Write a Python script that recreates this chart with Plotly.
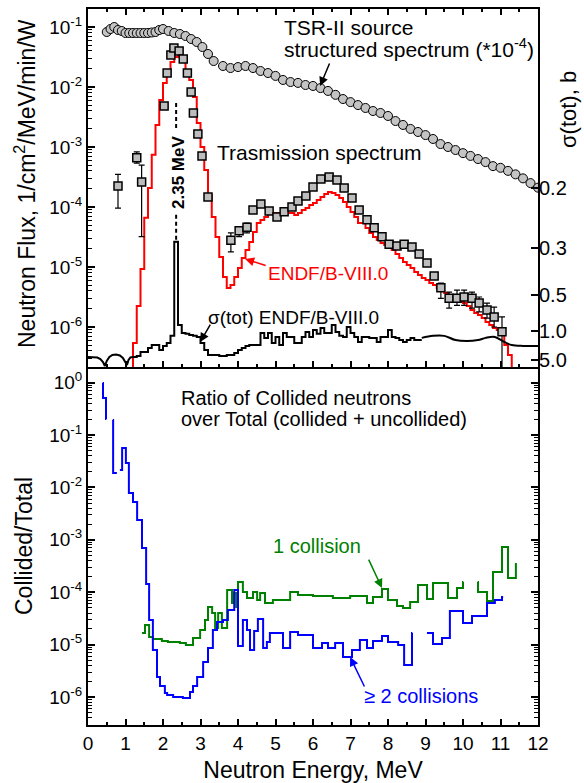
import plotly.graph_objects as go
import math

# ---------------- data ----------------
# TSR-II source structured spectrum (*1e-4), circles
tsr_E = [0.5, 0.6, 0.7, 0.8, 0.9, 1.0, 1.1, 1.2, 1.3, 1.4, 1.5, 1.6, 1.7, 1.8, 1.9, 2.0,
         2.15, 2.3, 2.45, 2.6, 2.75, 2.9, 3.05, 3.2, 3.35,
         3.6, 3.8, 4.0, 4.2, 4.4, 4.6, 4.8, 5.0, 5.2, 5.4, 5.6, 5.8, 6.0, 6.2, 6.4, 6.6, 6.8,
         7.0, 7.2, 7.4, 7.6, 7.8, 8.0, 8.2, 8.4, 8.6, 8.8, 9.0, 9.2, 9.4, 9.6, 9.8, 10.0,
         10.2, 10.4, 10.6, 10.8, 11.0, 11.2, 11.4, 11.6, 11.8, 12.0]
tsr_flux = [0.0825, 0.0926, 0.100, 0.0891, 0.0858, 0.0794, 0.0794, 0.0794, 0.0794, 0.0794, 0.0794,
            0.0794, 0.0810, 0.0825, 0.0891, 0.0926,
            0.0858, 0.0794, 0.0764, 0.0708, 0.0631, 0.0562, 0.0464, 0.0355, 0.0271,
            0.0224, 0.0207, 0.0215, 0.0224, 0.0207, 0.0185, 0.0171, 0.0153, 0.0131, 0.0121, 0.0117,
            0.0108, 0.0104, 0.0096, 0.0086, 0.0074, 0.0063,
            0.0056, 0.0050, 0.00447, 0.00398, 0.00369, 0.00329, 0.00271, 0.00233, 0.00200, 0.00178,
            0.00158, 0.00136, 0.00112, 0.00100, 0.00089, 0.00079,
            0.00071, 0.00063, 0.00056, 0.00048, 0.00045, 0.00040, 0.00035, 0.00030, 0.00025, 0.00021]

# Measured transmission spectrum (squares) with upper / lower error limits
meas_E = [0.8, 1.3, 1.43, 2.03, 2.11, 2.21, 2.29, 2.43, 2.54, 2.65, 2.75, 2.81, 2.93, 3.04, 3.2,
          3.81, 4.03, 4.24, 4.4, 4.61, 4.83, 5.04, 5.23, 5.44, 5.6, 5.81, 6.0, 6.21, 6.43, 6.64,
          6.83, 7.04, 7.23, 7.44, 7.63, 7.84, 8.03, 8.24, 8.43, 8.64, 8.83, 9.04, 9.23,
          9.41, 9.63, 9.84, 10.03, 10.24, 10.43, 10.64, 10.83, 11.04]
meas_flux = [2.24e-4, 6.6e-4, 2.6e-4, 4.8e-3, 0.0171, 0.0341, 0.0447, 0.0398, 0.0293, 0.0171,
             8.26e-3, 3.69e-3, 1.65e-3, 7.1e-4, 1.47e-4,
             2.8e-5, 4.0e-5, 4.6e-5, 8.9e-5, 1.12e-4, 8.6e-5, 6.8e-5, 8.3e-5, 1.0e-4, 1.26e-4,
             1.52e-4, 2.15e-4, 2.93e-4, 3.16e-4, 2.82e-4,
             2.07e-4, 1.41e-4, 8.9e-5, 6.1e-5, 4.5e-5, 3.2e-5, 2.4e-5, 2.24e-5, 2.4e-5, 2.15e-5,
             1.65e-5, 1.17e-5, 7.1e-6,
             4.5e-6, 3.0e-6, 3.0e-6, 3.16e-6, 3.0e-6, 2.5e-6, 1.92e-6, 1.47e-6, 8.3e-7]
meas_hi = [3.5e-4, 8.3e-4, 5.0e-4, 4.8e-3, 0.0171, 0.0341, 0.0447, 0.0398, 0.0293, 0.0171,
           8.26e-3, 3.69e-3, 1.65e-3, 7.1e-4, 1.47e-4,
           3.7e-5, 4.6e-5, 5.4e-5, 8.9e-5, 1.12e-4, 8.6e-5, 6.8e-5, 8.3e-5, 1.0e-4, 1.26e-4,
           1.52e-4, 2.15e-4, 2.93e-4, 3.16e-4, 2.82e-4,
           2.07e-4, 1.41e-4, 8.9e-5, 6.1e-5, 4.5e-5, 3.2e-5, 2.4e-5, 2.24e-5, 2.4e-5, 2.15e-5,
           1.65e-5, 1.17e-5, 7.1e-6,
           5.4e-6, 3.8e-6, 4.1e-6, 4.1e-6, 3.8e-6, 3.16e-6, 2.5e-6, 2.15e-6, 1.47e-6]
meas_lo = [9.6e-5, 5.4e-4, 3.2e-5, 4.8e-3, 0.0171, 0.0341, 0.0447, 0.0398, 0.0293, 0.0171,
           8.26e-3, 3.69e-3, 1.65e-3, 7.1e-4, 1.47e-4,
           1.78e-5, 3.2e-5, 3.7e-5, 8.9e-5, 1.12e-4, 8.6e-5, 6.8e-5, 8.3e-5, 1.0e-4, 1.26e-4,
           1.52e-4, 2.15e-4, 2.93e-4, 3.16e-4, 2.82e-4,
           2.07e-4, 1.41e-4, 8.9e-5, 6.1e-5, 4.5e-5, 3.2e-5, 2.4e-5, 2.24e-5, 2.4e-5, 2.15e-5,
           1.65e-5, 1.17e-5, 7.1e-6,
           3.0e-6, 2.07e-6, 2.3e-6, 2.3e-6, 2.07e-6, 1.78e-6, 1.4e-6, 1.0e-6, 1.0e-7]

# ENDF/B-VIII.0 calculated transmission (histogram, bin left edges)
endf_E = [1.1, 1.2, 1.3, 1.4, 1.5, 1.6, 1.7, 1.8, 1.9, 2.0, 2.1, 2.2, 2.3, 2.4, 2.5, 2.6, 2.7, 2.8,
          2.9, 3.0, 3.1, 3.2, 3.3, 3.4, 3.5, 3.6, 3.7, 3.8, 3.9, 4.0, 4.1, 4.2, 4.3, 4.4, 4.5, 4.6,
          4.7, 4.8, 4.9, 5.0, 5.1, 5.2, 5.3, 5.4, 5.5, 5.6, 5.7, 5.8, 5.9, 6.0, 6.1, 6.2, 6.3, 6.4,
          6.5, 6.6, 6.7, 6.8, 6.9, 7.0, 7.1, 7.2, 7.3, 7.4, 7.5, 7.6, 7.7, 7.8, 7.9, 8.0, 8.1, 8.2,
          8.3, 8.4, 8.5, 8.6, 8.7, 8.8, 8.9, 9.0, 9.1, 9.2, 9.3, 9.4, 9.5, 9.6, 9.7, 9.8, 9.9, 10.0,
          10.1, 10.2, 10.3, 10.4, 10.5, 10.6, 10.7, 10.8, 10.9, 11.0, 11.1, 11.2, 11.3, 11.4]
endf_flux = [1e-7, 5.41e-7, 2.24e-6, 9.3e-6, 6.6e-5, 2.07e-4, 7.4e-4, 2.33e-3, 6.07e-3, 0.0117,
             0.0192, 0.0261, 0.0316, 0.0329, 0.0282, 0.0192, 0.0131, 6.8e-3, 2.51e-3, 1.0e-3,
             4.14e-4, 1.58e-4, 6.8e-5, 3.16e-5, 1.47e-5, 6.8e-6, 4.47e-6, 5.0e-6, 6.8e-6, 9.6e-6,
             1.41e-5, 1.92e-5, 2.61e-5, 3.83e-5, 5.41e-5, 6.07e-5, 6.8e-5, 7.64e-5, 7.94e-5, 7.94e-5,
             7.94e-5, 7.94e-5, 7.94e-5, 7.94e-5, 7.36e-5, 7.94e-5, 8.9e-5, 9.6e-5, 1.08e-4, 1.17e-4,
             1.31e-4, 1.47e-4, 1.65e-4, 1.78e-4, 1.71e-4, 1.58e-4, 1.41e-4, 1.21e-4, 1.0e-4, 8.26e-5,
             6.8e-5, 5.41e-5, 5.41e-5, 4.47e-5, 3.69e-5, 3.16e-5, 2.82e-5, 2.51e-5, 2.33e-5, 2.07e-5,
             1.92e-5, 1.65e-5, 1.41e-5, 1.21e-5, 1.08e-5, 9.6e-6, 8.26e-6, 7.36e-6, 6.56e-6, 6.07e-6,
             5.41e-6, 5.0e-6, 4.47e-6, 3.98e-6, 3.69e-6, 3.29e-6, 3.04e-6, 2.82e-6, 2.61e-6, 2.51e-6,
             2.24e-6, 1.92e-6, 1.71e-6, 1.58e-6, 1.41e-6, 1.21e-6, 1.08e-6, 9.6e-7, 8.9e-7, 7.36e-7,
             5.0e-7, 3.41e-7, 1e-7, 1e-7]

# sigma(tot) ENDF/B-VIII.0, barns (right axis, plotted as 1/sigma)
sig_low_E = [0.0, 0.15, 0.25, 0.33, 0.40, 0.45, 0.50, 0.57, 0.65, 0.75, 0.85, 0.93, 0.99, 1.04,
             1.08, 1.13, 1.2]
sig_low = [3.58, 3.58, 3.77, 4.48, 7.16, 35.8, 5.97, 3.58, 2.98, 2.86, 3.11, 3.98, 6.51, 17.9,
           5.11, 3.77, 3.58]
sig_step_E = [1.2, 1.3, 1.4, 1.5, 1.6, 1.7, 1.8, 1.9, 2.0, 2.1, 2.2, 2.3, 2.4, 2.5, 2.6, 2.7,
              2.8, 2.9, 3.0, 3.1, 3.2, 3.3, 3.4, 3.5, 3.6, 3.7, 3.8, 3.9, 4.0, 4.1, 4.2, 4.3,
              4.4, 4.5, 4.6, 4.7, 4.8, 4.9, 5.0, 5.1, 5.2, 5.3, 5.4, 5.5, 5.6, 5.7, 5.8, 5.9,
              6.0, 6.1, 6.2, 6.3, 6.4, 6.5, 6.6, 6.7, 6.8, 6.9, 7.0, 7.1, 7.2, 7.3, 7.4, 7.5,
              7.6, 7.7, 7.8, 7.9, 8.0, 8.1, 8.2, 8.3, 8.4, 8.5, 8.6, 8.7, 8.8, 8.9]
sig_step = [3.58, 3.25, 2.39, 2.39, 1.88, 1.63, 1.63, 2.11, 1.70, 1.49, 1.15, 0.286, 0.852, 1.05,
            1.08, 1.12, 1.15, 1.19, 1.49, 2.11, 2.98, 2.98, 2.98, 3.25, 3.25, 2.98, 2.98, 2.56,
            2.11, 1.88, 1.70, 1.63, 1.63, 1.63, 1.05, 1.23, 1.05, 1.49, 1.19, 1.63, 1.05, 1.19,
            1.19, 1.49, 1.49, 1.19, 1.02, 1.19, 0.968, 1.08, 0.918, 1.05, 1.05, 0.852, 1.02, 1.15,
            1.19, 0.895, 1.05, 1.19, 1.43, 1.19, 1.19, 1.23, 1.23, 1.43, 1.19, 1.19, 0.968, 1.19,
            1.23, 1.33, 1.43, 1.33, 1.23, 1.33, 1.33, 1.33]
sig_tail_E = [8.9, 9.2, 9.5, 9.8, 10.1, 10.4, 10.6, 10.85, 11.1, 11.3, 11.6, 12.0]
sig_tail = [1.23, 1.15, 1.15, 1.33, 1.38, 1.33, 1.23, 1.19, 1.43, 1.63, 1.70, 1.70]

# Ratio collided / total: 1 collision (green), >=2 collisions (blue); histogram bin edges
c1_E = [1.44, 1.52, 1.63, 1.73, 1.97, 2.13, 2.45, 2.61, 2.80, 2.99, 3.12, 3.20, 3.31, 3.39,
        3.47, 3.57, 3.71, 3.84, 3.87, 3.95, 4.00, 4.13, 4.24, 4.40, 4.51, 4.59, 4.72, 4.93,
        5.39, 5.60, 6.00, 6.53, 6.99, 7.44, 7.60, 7.84, 8.00, 8.24, 8.40, 8.59, 8.80, 9.04,
        9.20, 9.60, 9.84, 10.00, 10.01, 10.2, 10.39, 10.40, 10.64, 10.80, 11.04, 11.20, 11.41]
c1_ratio = [1.66e-5, 2.37e-5, 1.40e-5, 1.28e-5, 1.17e-5, 1.12e-5, 1.07e-5, 9.82e-6, 1.34e-5,
            1.90e-5, 2.95e-5, 5.22e-5, 4.01e-5, 2.07e-5, 4.01e-5, 2.07e-5, 1.10e-4, 6.22e-5,
            9.66e-5, 5.22e-5, 1.57e-4, 1.01e-4, 7.75e-5, 1.01e-4, 7.10e-5, 9.66e-5, 6.22e-5,
            7.10e-5, 1.01e-4, 8.85e-5, 8.46e-5, 7.75e-5, 8.46e-5, 6.22e-5, 8.10e-5, 1.15e-4,
            7.10e-5, 5.45e-5, 4.99e-5, 6.50e-5, 1.37e-4, 7.41e-5, 1.50e-4, 7.75e-5, 1.20e-4,
            1.57e-4, 1.57e-4, None, 1.57e-4, 1.01e-4, 6.79e-5, 2.43e-4, 7.29e-4, 1.87e-4, 3.61e-4]
c2_E = [0.39, 0.40, 0.48, 0.49, 0.55, 0.66, 0.67, 0.77, 0.8, 0.85, 0.91, 1.01, 1.09, 1.20,
        1.31, 1.44, 1.55, 1.63, 1.73, 1.84, 1.92, 2.05, 2.11, 2.27, 2.53, 2.72, 2.80, 2.91,
        3.07, 3.20, 3.33, 3.44, 3.60, 3.73, 3.90, 4.00, 4.13, 4.24, 4.32, 4.43,
        4.53, 4.67, 4.77, 4.85, 5.20, 5.39, 5.60, 6.00, 6.24, 6.40, 6.59, 6.80, 7.04, 7.25,
        7.44, 7.60, 7.84, 8.00, 8.27, 8.43, 8.64, 8.65, 8.8, 9.04, 9.20, 9.44, 9.65, 10.00,
        10.24, 10.64, 10.85, 11.04, 11.07]
c2_ratio = [0.98, 0.508, 0.202, 0.202, None, 0.193, 0.0188, 0.0188, None, 0.0215, 0.0565,
            0.0292, 0.00782, 0.00526, 0.00239, 6.98e-4, 1.43e-4, 2.95e-5, 7.88e-6, 2.41e-6,
            1.62e-6, 1.19e-6, 1.09e-6, 1.0e-6, 9.57e-7, 1.25e-6, 1.62e-6, 2.41e-6, 4.66e-6,
            8.61e-6, 1.90e-5, 2.70e-5, 2.95e-5, 4.57e-5, 1.10e-4, 9.40e-6,
            2.95e-5, 1.90e-5, 7.88e-6, 1.82e-5, 3.08e-5, 8.61e-6, 1.12e-5, 1.66e-5, 8.61e-6,
            1.74e-5, 1.52e-5, 8.61e-6, 1.07e-5, 8.61e-6, 1.07e-5, 5.80e-6, 7.88e-6, 1.22e-5,
            8.61e-6, 1.17e-5, 1.46e-5, 1.12e-5, 9.82e-6, 4.08e-6, 1.66e-5, 1.66e-5, None,
            1.66e-5, 1.03e-5, 1.34e-5, 4.38e-5, 2.58e-5, 3.52e-5, 6.22e-5, 7.10e-5, 8.10e-5,
            8.10e-5]

# 2.35 MeV marker line (upper and lower dashed pieces)
marker_E = 2.35
marker_flux = [5.4e-3, 2.07e-3, None, 7.4e-5, 2.5e-5]

# tick labels
flux_tickvals = [1e-6, 1e-5, 1e-4, 1e-3, 1e-2, 1e-1]
flux_ticktext = ["10<sup>-6</sup>", "10<sup>-5</sup>", "10<sup>-4</sup>", "10<sup>-3</sup>",
                 "10<sup>-2</sup>", "10<sup>-1</sup>"]
ratio_tickvals = [1e-6, 1e-5, 1e-4, 1e-3, 1e-2, 1e-1, 1e0]
ratio_ticktext = ["10<sup>-6</sup>", "10<sup>-5</sup>", "10<sup>-4</sup>", "10<sup>-3</sup>",
                  "10<sup>-2</sup>", "10<sup>-1</sup>", "10<sup>0</sup>"]
sigma_tickvals_b = [0.2, 0.3, 0.5, 1.0, 5.0]
sigma_ticktext = ["0.2", "0.3", "0.5", "1.0", "5.0"]

# ---------------- figure ----------------
FONT = "Liberation Sans, Arial, sans-serif"
fig = go.Figure()

fig.add_trace(go.Scatter(x=endf_E, y=endf_flux, xaxis="x2", yaxis="y2", mode="lines",
                         line=dict(color="#ff0000", width=2, shape="hv"), hoverinfo="skip"))
fig.add_trace(go.Scatter(x=[marker_E] * len(marker_flux), y=marker_flux, xaxis="x2", yaxis="y2",
                         mode="lines", line=dict(color="black", width=2, dash="4px,3px"),
                         hoverinfo="skip"))
fig.add_trace(go.Scatter(
    x=meas_E, y=meas_flux, xaxis="x2", yaxis="y2", mode="markers",
    marker=dict(symbol="square", size=8, color="#bdbdbd", line=dict(color="black", width=1.5)),
    error_y=dict(type="data", symmetric=False,
                 array=[h - v for h, v in zip(meas_hi, meas_flux)],
                 arrayminus=[v - l for v, l in zip(meas_flux, meas_lo)],
                 color="black", thickness=1.2, width=3),
    hoverinfo="skip"))
fig.add_trace(go.Scatter(x=tsr_E, y=tsr_flux, xaxis="x2", yaxis="y2", mode="markers",
                         marker=dict(symbol="circle", size=9, color="#c4c4c4",
                                     line=dict(color="black", width=1)),
                         hoverinfo="skip"))

# sigma(tot) on right axis (linear in 1/sigma)
for xs, ss, shape in [(sig_low_E, sig_low, "linear"), (sig_step_E, sig_step, "hv"),
                      (sig_tail_E, sig_tail, "spline")]:
    fig.add_trace(go.Scatter(x=xs, y=[1.0 / s for s in ss], xaxis="x2", yaxis="y3", mode="lines",
                             line=dict(color="black", width=2, shape=shape), hoverinfo="skip"))

# bottom panel
fig.add_trace(go.Scatter(x=c1_E, y=c1_ratio, xaxis="x", yaxis="y", mode="lines",
                         line=dict(color="#008000", width=2, shape="hv"), hoverinfo="skip"))
fig.add_trace(go.Scatter(x=c2_E, y=c2_ratio, xaxis="x", yaxis="y", mode="lines",
                         line=dict(color="#0000ff", width=2, shape="hv"), hoverinfo="skip"))

minor_log = [k * 10.0 ** e for e in range(-8, 1) for k in range(2, 10)]

axis_common = dict(showline=True, linecolor="black", linewidth=2, ticks="inside",
                   tickcolor="black", tickwidth=1.5, showgrid=False, zeroline=False,
                   tickfont=dict(family=FONT, size=19, color="black"))

fig.update_layout(
    width=584, height=783,
    margin=dict(l=88, r=46, t=9, b=58),
    paper_bgcolor="white", plot_bgcolor="white",
    showlegend=False,
    font=dict(family=FONT, color="black"),
    xaxis=dict(domain=[0, 1], anchor="y", range=[0, 12], dtick=1, tick0=0, ticklen=6,
               minor=dict(dtick=0.5, ticklen=3, ticks="inside", tickcolor="black", tickwidth=1.5),
               mirror=False, automargin=False,
               title=dict(text="Neutron Energy, MeV", font=dict(family=FONT, size=23),
                          standoff=9),
               **axis_common),
    xaxis2=dict(domain=[0, 1], anchor="y2", matches="x", range=[0, 12], dtick=1, tick0=0,
                ticklen=6, showticklabels=False,
                minor=dict(dtick=0.5, ticklen=3, ticks="inside", tickcolor="black", tickwidth=1.5),
                mirror="ticks", automargin=False, **axis_common),
    yaxis=dict(domain=[0, 0.5], anchor="x", type="log", range=[-6.534, 0.298],
               tickmode="array", tickvals=ratio_tickvals, ticktext=ratio_ticktext, ticklen=7,
               minor=dict(tickvals=minor_log, ticklen=4, ticks="inside", tickcolor="black",
                          tickwidth=1.2),
               mirror="ticks", automargin=False, **axis_common),
    yaxis2=dict(domain=[0.5, 1], anchor="x2", type="log", range=[-6.667, -0.7],
                tickmode="array", tickvals=flux_tickvals, ticktext=flux_ticktext, ticklen=7,
                minor=dict(tickvals=minor_log, ticklen=4, ticks="inside", tickcolor="black",
                           tickwidth=1.2),
                mirror=True, automargin=False, **axis_common),
    yaxis3=dict(overlaying="y2", anchor="x2", side="right", range=[0, 10],
                tickmode="array", tickvals=[1.0 / s for s in sigma_tickvals_b],
                ticktext=sigma_ticktext, ticks="inside", ticklen=7, tickwidth=1.5,
                tickcolor="black", showline=False, showgrid=False, zeroline=False,
                automargin=False, tickfont=dict(family=FONT, size=20, color="black")),
)


def px(x):
    return (x - 88) / 450.0


def py(y):
    return (725 - y) / 716.0


def text_ann(txt, x, y, size, color="black", xanchor="left", angle=0, bold=False):
    fig.add_annotation(text=("<b>%s</b>" % txt) if bold else txt, xref="paper", yref="paper",
                       x=px(x), y=py(y), xanchor=xanchor, yanchor="middle", showarrow=False,
                       textangle=angle, font=dict(family=FONT, size=size, color=color))


text_ann("Neutron Flux, 1/cm<sup>2</sup>/MeV/min/W", 25, 184, 23, xanchor="center", angle=-90)
text_ann("Collided/Total", 24, 546, 23, xanchor="center", angle=-90)
text_ann("σ(tot), b", 568, 110, 22, xanchor="center", angle=-90)
text_ann("TSR-II source", 282, 27, 21)
text_ann("structured spectrum (*10<sup>-4</sup>)", 282, 48, 21)
text_ann("Trasmission spectrum", 215, 152, 21)
text_ann("2.35 MeV", 178, 173, 17, xanchor="center", angle=-90, bold=True)
text_ann("ENDF/B-VIII.0", 266, 273, 19, color="#ff0000")
text_ann("σ(tot) ENDF/B-VIII.0", 206, 317, 19)
text_ann("Ratio of Collided neutrons", 179, 398, 20)
text_ann("over Total (collided + uncollided)", 179, 419, 20)
text_ann("1 collision", 271, 546, 20, color="#008000")
text_ann("≥ 2 collisions", 362, 696, 20, color="#0000ff")


def arrow(x, y, ax, ay, color, xref, yref):
    fig.add_annotation(x=x, y=math.log10(y), xref=xref, yref=yref, ax=ax, ay=ay, text="",
                       showarrow=True, arrowhead=2, arrowsize=1.2, arrowwidth=1.5,
                       arrowcolor=color, standoff=0)


arrow(6.19, 0.0104, 10, -24, "black", "x2", "y2")
arrow(4.19, 1.36e-5, 22, 7, "#ff0000", "x2", "y2")
arrow(2.99, 5.6e-7, 11, -19, "black", "x2", "y2")
arrow(7.84, 1.2e-4, -14, -30, "#008000", "x", "y")
arrow(6.99, 5.8e-6, 15, 31, "#0000ff", "x", "y")

fig.write_html("out.html",
               config={"displayModeBar": False},
               post_script="document.body.style.margin='0px';"
                           "document.body.style.overflow='hidden';")
